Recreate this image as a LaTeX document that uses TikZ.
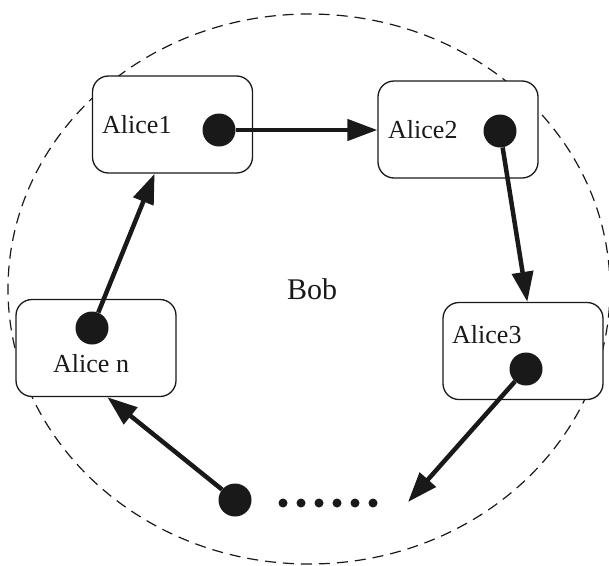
\documentclass[tikz,border=0pt]{standalone}
\usepackage{fontspec}
\setmainfont{Liberation Serif}
\usetikzlibrary{arrows.meta}
\begin{document}
\begin{tikzpicture}[x=1pt,y=-1pt,
  box/.style={draw=black!90,line width=1.3pt,rounded corners=16pt,fill=white,minimum width=160pt,minimum height=97pt,inner sep=0pt},
  lbl/.style={inner sep=0pt,anchor=base west,text=black!90,font=\fontsize{26}{30}\selectfont},
  dot/.style={circle,fill=black!90,inner sep=0pt,minimum size=33pt},
  sdot/.style={circle,fill=black!90,inner sep=0pt,minimum size=9pt},
  arr/.style={draw=black!90,line width=4.5pt,-{Triangle[length=30pt,width=21pt]}},
  bound/.style={draw=black!90,line width=1.2pt,dash pattern=on 11pt off 7pt}]
\useasboundingbox (0,0) rectangle (609,565);
\draw[bound] (309,289) ellipse [x radius=301pt, y radius=275pt];
% boxes
\node[box] (a1) at (172.5,124.5) {};
\node[box] (a2) at (458,129.5) {};
\node[box] (a3) at (523,351) {};
\node[box] (an) at (96,348) {};
% labels
\node[lbl] (t1) at (102,133) {Alice1};
\node[lbl] (t2) at (388,138) {Alice2};
\node[lbl] (t3) at (452,343) {Alice3};
\node[lbl] (tn) at (53,372) {Alice n};
\node[inner sep=0pt,anchor=base west,text=black!90,font=\fontsize{30}{34}\selectfont] (bob) at (287,299) {Bob};
% dots
\node[dot] (d1) at (219,130) {};
\node[dot] (d2) at (500,131) {};
\node[dot] (d3) at (526,369) {};
\node[dot] (dn) at (92,328) {};
\node[dot] (d4) at (235,500) {};
\foreach \i in {0,...,5} {\node[sdot] (s\i) at (283+18*\i,503) {};}
\coordinate (e3) at (408,502);
% arrows
\draw[arr] (d1) -- (a2.west |- d1);
\draw[arr] (d2) -- (a3.85);
\draw[arr] (d3) -- (e3);
\draw[arr] (d4) -- (an.-77);
\draw[arr] (dn) -- (a1.250);
\end{tikzpicture}
\end{document}
